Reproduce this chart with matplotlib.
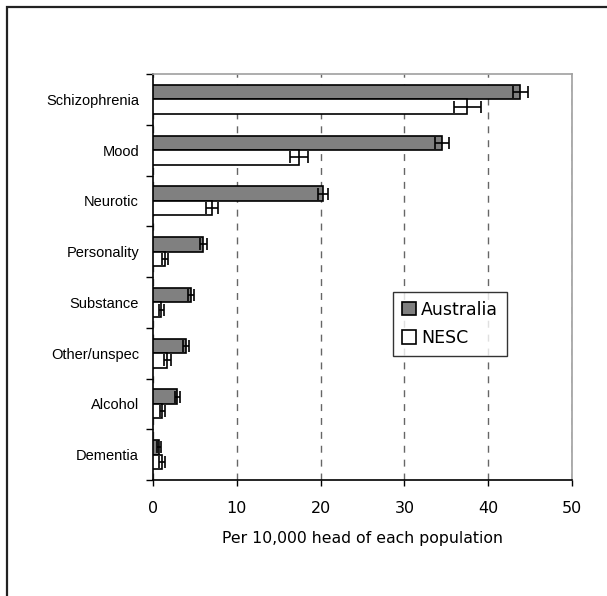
import matplotlib
matplotlib.use("Agg")
import matplotlib.pyplot as plt
import numpy as np
from matplotlib.patches import Rectangle

# Admission rates per 10,000 head, by diagnostic group
categories = ["Schizophrenia", "Mood", "Neurotic", "Personality",
              "Substance", "Other/unspec", "Alcohol", "Dementia"]
australia = [43.8, 34.5, 20.3, 6.0, 4.5, 3.9, 2.9, 0.7]
australia_err = [0.9, 0.8, 0.6, 0.4, 0.35, 0.35, 0.3, 0.2]
nesc = [37.5, 17.4, 7.0, 1.4, 1.0, 1.7, 1.1, 1.1]
nesc_err = [1.6, 1.05, 0.7, 0.35, 0.3, 0.4, 0.3, 0.35]

GREY = "#808080"
FRAME = "#a0a0a0"

fig = plt.figure(figsize=(6.07, 5.96), dpi=100)
fig.patch.set_facecolor("white")

# outer chart border (left and top edges visible)
fig.patches.append(Rectangle((7 / 607, -0.1), 1.2, 1 - 7 / 596 + 0.1,
                             transform=fig.transFigure, fill=False,
                             edgecolor="#222222", linewidth=1.6))

ax = fig.add_axes([153 / 607, 1 - 480 / 596, 419 / 607, 406 / 596])

y = np.arange(len(categories))
h = 0.286
err_kw = dict(ecolor="black", elinewidth=1.2, capsize=4.5, capthick=1.2)
ax.barh(y - h / 2, australia, height=h, xerr=australia_err, color=GREY,
        edgecolor="black", linewidth=1.2, label="Australia", error_kw=err_kw,
        zorder=3)
ax.barh(y + h / 2, nesc, height=h, xerr=nesc_err, color="white",
        edgecolor="black", linewidth=1.2, label="NESC", error_kw=err_kw,
        zorder=3)

ax.set_xlim(0, 50)
ax.set_ylim(len(categories) - 0.5, -0.5)
ax.set_xticks(range(0, 51, 10))
ax.tick_params(axis="x", labelsize=11.5, length=4, width=1, pad=11)

# category names at group centres, tick marks at group boundaries
ax.set_yticks(y)
ax.set_yticklabels(categories, fontsize=10.5, family="Liberation Sans")
ax.set_yticks(np.arange(-0.5, len(categories), 1.0), minor=True)
ax.tick_params(axis="y", which="major", length=0, pad=10)
ax.tick_params(axis="y", which="minor", length=5, width=1)

ax.xaxis.grid(True, linestyle=(0, (5, 5)), color="#666666", linewidth=1)
ax.set_axisbelow(True)

for side in ("top", "right"):
    ax.spines[side].set_color(FRAME)
    ax.spines[side].set_linewidth(1.2)
for side in ("left", "bottom"):
    ax.spines[side].set_color("black")
    ax.spines[side].set_linewidth(1.2)

ax.set_xlabel("Per 10,000 head of each population", fontsize=11.3,
              labelpad=11)

leg = ax.legend(loc="upper left", bbox_to_anchor=(0.573, 0.463),
                fontsize=12.5, frameon=True, fancybox=False,
                handlelength=0.8, handleheight=0.8, handletextpad=0.3,
                labelspacing=0.6, borderpad=0.5, borderaxespad=0)
leg.get_frame().set_edgecolor("black")
leg.get_frame().set_linewidth(1)

fig.savefig("out.png", dpi=100)
